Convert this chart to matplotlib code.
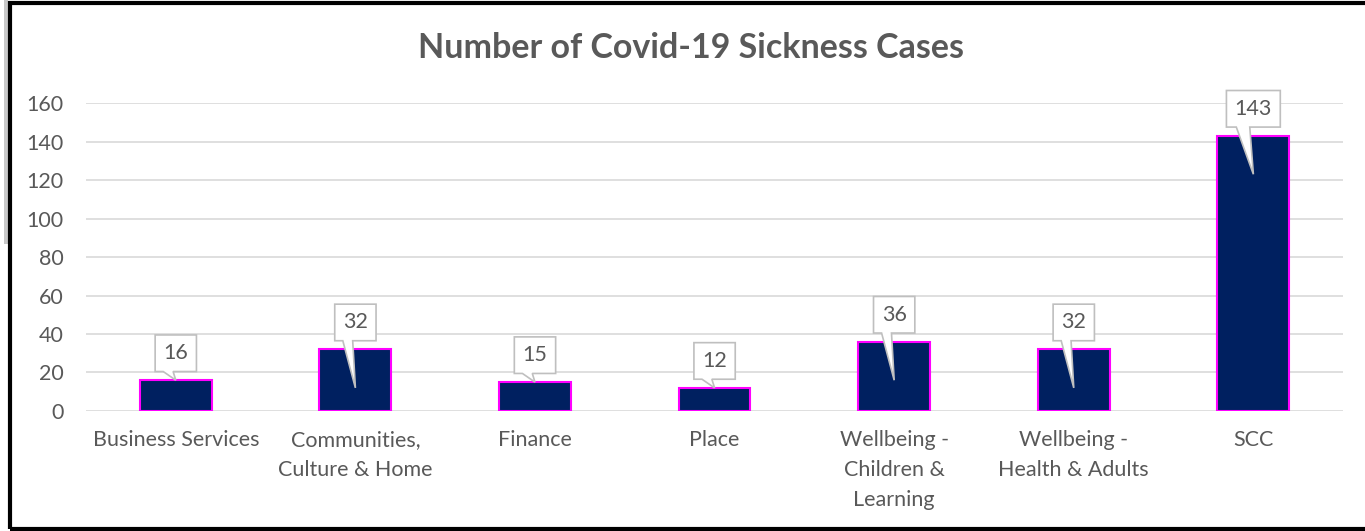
import matplotlib.pyplot as plt
from matplotlib.patches import Polygon, Rectangle

# data
categories = ["Business Services", "Communities,\nCulture & Home", "Finance", "Place",
              "Wellbeing -\nChildren &\nLearning", "Wellbeing -\nHealth & Adults", "SCC"]
cases = [16, 32, 15, 12, 36, 32, 143]
y_ticks = [0, 20, 40, 60, 80, 100, 120, 140, 160]

text_grey = "#595959"
plt.rcParams["font.family"] = ["Lato", "DejaVu Sans"]
fs = 15.5

fig = plt.figure(figsize=(13.65, 5.31), dpi=100)
ax = fig.add_axes([0.063, 0.226, 0.921, 0.58])

x = list(range(len(cases)))
ax.bar(x, cases, width=0.4, color="#002060", edgecolor="#ff00ff", linewidth=1.5, zorder=3)

ax.set_xlim(-0.5, len(cases) - 0.5)
ax.set_ylim(0, 160)
ax.set_yticks(y_ticks)
ax.set_yticklabels([str(t) for t in y_ticks], fontsize=fs, color=text_grey)
ax.set_xticks(x)
ax.set_xticklabels(categories, fontsize=fs, color=text_grey, linespacing=1.62, va="top")
ax.tick_params(axis="both", length=0)
ax.tick_params(axis="y", pad=16)
ax.tick_params(axis="x", pad=14)
ax.yaxis.grid(True, color="#d9d9d9", linewidth=1.2, zorder=0)
ax.set_axisbelow(True)
for s in ax.spines.values():
    s.set_visible(False)

# speech-bubble data labels
for xi, v in zip(x, cases):
    hw = 0.15 if len(str(v)) > 2 else 0.115
    cy = v + 14
    hh = 9.5
    tip = v - 20 if v > 20 else v
    base_l, base_r = xi - 0.07, xi - 0.015
    if len(str(v)) > 2:
        base_l, base_r = xi - 0.095, xi - 0.02
    verts = [(xi - hw, cy + hh), (xi + hw, cy + hh), (xi + hw, cy - hh),
             (base_r, cy - hh), (xi, tip), (base_l, cy - hh), (xi - hw, cy - hh)]
    ax.add_patch(Polygon(verts, closed=True, facecolor="white", edgecolor="#bfbfbf",
                         linewidth=1.2, zorder=4, clip_on=False))
    ax.text(xi, cy, str(v), ha="center", va="center", fontsize=fs, color=text_grey,
            zorder=5, clip_on=False)

fig.text(0.506, 0.91, "Number of Covid-19 Sickness Cases", ha="center", va="center",
         fontsize=24.5, fontweight="bold", color=text_grey)

# outer frame
fig.patches.append(Rectangle((0.003, 0.54), 0.003, 0.46, transform=fig.transFigure,
                             facecolor="#c8c8c8", edgecolor="none"))
fig.patches.append(Rectangle((0.0075, 0.004), 1.0, 0.99, transform=fig.transFigure,
                             fill=False, edgecolor="black", linewidth=3))

fig.savefig("out.png", dpi=100)
